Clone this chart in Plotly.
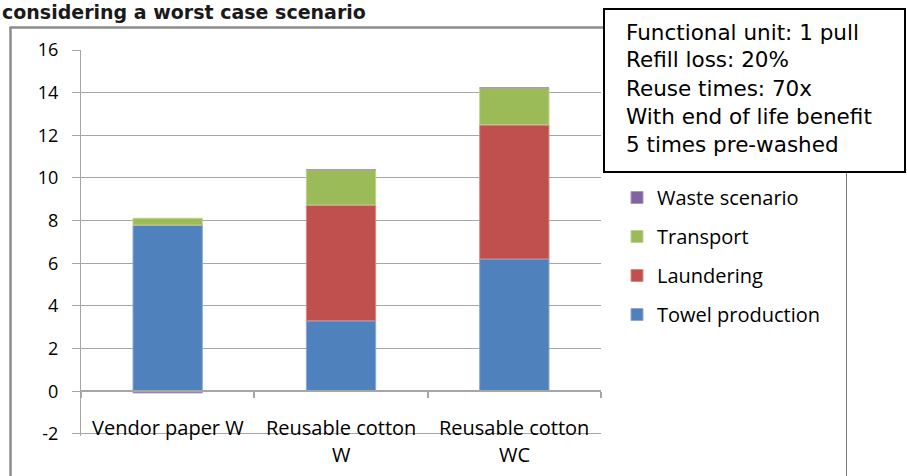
import plotly.graph_objects as go

# Stacked impact per functional unit (one pull)
categories = ["Vendor paper W", "Reusable cotton<br>W", "Reusable cotton<br>WC"]
towel_production = [7.79, 3.30, 6.20]
laundering = [0.0, 5.43, 6.29]
transport = [0.32, 1.66, 1.74]
waste_scenario = [-0.08, 0.0, 0.0]

y_ticks = [-2, 0, 2, 4, 6, 8, 10, 12, 14, 16]

note_lines = [
    "Functional unit: 1 pull",
    "Refill loss: 20%",
    "Reuse times: 70x",
    "With end of life benefit",
    "5 times pre-washed",
]
title_text = "considering a worst case scenario"

W, H = 907, 476
L, R, T, B = 81, 306, 50, 40
PW, PH = W - L - R, H - T - B
FONT = "Open Sans"


def px(x):
    return (x - L) / PW


def py(y):
    return (H - B - y) / PH


series = [
    ("Towel production", towel_production, "#4F81BD", "#8EA9D3"),
    ("Laundering", laundering, "#C0504D", "#D98A88"),
    ("Transport", transport, "#9BBB59", "#BED38E"),
    ("Waste scenario", waste_scenario, "#8064A2", "#A996C2"),
]

fig = go.Figure()
n = len(series)
for k, (name, vals, col, edge) in enumerate(series):
    fig.add_trace(go.Bar(
        x=categories, y=vals, name=name, legendgroup=name,
        legendrank=n - k,  # top segment listed first
        marker=dict(color=col, line=dict(color=edge, width=1)),
    ))

ymin, ymax = y_ticks[0], y_ticks[-1]
ylo = ymin - 0.1  # small pad so the gridline at the lowest tick is drawn

fig.update_layout(
    width=W, height=H,
    margin=dict(l=L, r=R, t=T, b=B, pad=0),
    paper_bgcolor="white", plot_bgcolor="white",
    barmode="relative", bargap=0.6,
    font=dict(family=FONT, size=18, color="#000000"),
    showlegend=True,
    legend=dict(
        x=px(617), y=py(178), xanchor="left", yanchor="top",
        traceorder="grouped", tracegroupgap=10,
        font=dict(family=FONT, size=20, color="#000000"),
        bgcolor="rgba(0,0,0,0)",
    ),
    xaxis=dict(
        type="category", range=[-0.5, 2.5],
        anchor="free", position=(0 - ylo) / (ymax - ylo),
        showline=True, linecolor="#a6a6a6", linewidth=1.5,
        ticks="outside", tickson="boundaries", ticklen=6,
        tickcolor="#a6a6a6", tickwidth=1.5,
        showticklabels=False, showgrid=False, zeroline=False,
    ),
    yaxis=dict(
        range=[ylo, ymax], tickvals=y_ticks,
        ticktext=[str(v) for v in y_ticks],
        showgrid=True, gridcolor="#a6a6a6", gridwidth=1,
        showline=True, linecolor="#a6a6a6", linewidth=1,
        ticks="outside", ticklen=8, tickcolor="#a6a6a6",
        ticklabelstandoff=10, zeroline=False,
        tickfont=dict(family=FONT, size=18, color="#000000"),
    ),
)

# category labels below the zero line, wrapped lines stacked
for i, cat in enumerate(categories):
    for j, line in enumerate(cat.split("<br>")):
        fig.add_annotation(
            x=i, xref="x", y=py(427 + 27 * j), yref="paper",
            text=line, showarrow=False, xanchor="center", yanchor="middle",
            font=dict(family=FONT, size=20, color="#000000"),
        )

# outer chart frame
frame_col = "#8c8c8c"
fig.add_shape(type="line", xref="paper", yref="paper",
              x0=px(10.5), x1=px(10.5), y0=py(27), y1=py(490),
              line=dict(color=frame_col, width=2.5))
fig.add_shape(type="line", xref="paper", yref="paper",
              x0=px(9.5), x1=px(846.5), y0=py(27.5), y1=py(27.5),
              line=dict(color=frame_col, width=2.5))
fig.add_shape(type="line", xref="paper", yref="paper",
              x0=px(846.5), x1=px(846.5), y0=py(27), y1=py(490),
              line=dict(color="#7a7a7a", width=1))

# note box
fig.add_shape(type="rect", xref="paper", yref="paper",
              x0=px(604), x1=px(905), y0=py(172), y1=py(9),
              line=dict(color="#000000", width=2), fillcolor="white",
              layer="above")
for k, line in enumerate(note_lines):
    fig.add_annotation(
        x=px(624), xref="paper", y=py(32 + 28 * k), yref="paper",
        text=line, showarrow=False, xanchor="left", yanchor="middle",
        font=dict(family="DejaVu Sans", size=21.5, color="#000000"),
    )

# heading above the chart frame
fig.add_annotation(
    x=px(0), xref="paper", y=py(12), yref="paper",
    text="<b>" + title_text + "</b>", showarrow=False,
    xanchor="left", yanchor="middle",
    font=dict(family="DejaVu Sans", size=19, color="#1a1a1a"),
)

fig.write_html("out.html")
